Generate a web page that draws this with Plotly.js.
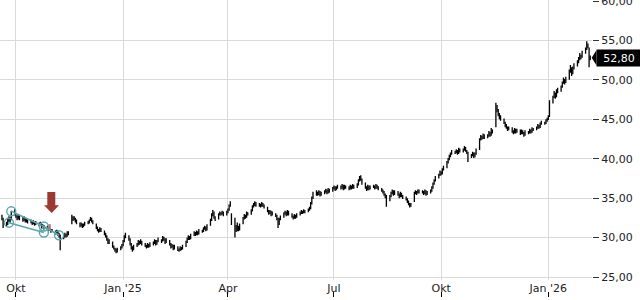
<!DOCTYPE html>
<html><head><meta charset="utf-8">
<script src="https://cdn.plot.ly/plotly-3.0.1.min.js"></script>
<style>html,body{margin:0;padding:0;background:#fff}#chart{width:640px;height:300px}</style>
</head><body><div id="chart"></div>
<script>
const startDate = '2024-09-19';
const openP = [
32.6,32.3,
31.8,31.7,32.2,32.4,32.3, 33.2,32.9,32.6,32.4,32.7, 32.4,32.2,32.4,32.1,32.2, 32.0,32.0,31.8,31.9,31.8,
31.8,31.6,31.7,31.4,31.4, 31.2,31.2,31.0,31.0,30.8, 30.8,30.6,30.8,30.4,30.2, 29.9,30.1,30.4,30.2,30.6,
31.8,32.5,32.3,32.4,32.1, 31.8,31.5,31.7,31.4,31.6, 31.8,31.9,32.2,32.4,32.1, 31.7,31.3,31.0,30.8,31.0,
30.8,30.5,30.2,29.7,29.4, 29.4,28.9,28.6,28.4,28.2, 28.5,28.7,29.0,29.5,30.1, 30.2,29.8,29.2,28.7,28.5,
28.9,29.1,29.5,29.3,29.5, 29.2,29.0,28.8,29.1,28.9, 29.1,29.3,29.6,29.2,29.5, 29.7,29.6,30.0,29.8,29.4,
29.6,29.2,28.8,29.0,28.6, 28.8,28.5,28.4,28.7,28.6, 28.9,29.4,29.8,30.1,29.9, 30.3,30.6,30.4,30.7,30.5,
30.9,30.8,31.1,31.3,31.0, 31.6,32.2,32.9,33.2,32.6, 32.4,32.9,33.1,33.0,33.2, 32.9,33.2,33.5,34.0,33.0,
31.0,31.4,30.9,31.3,31.0, 31.8,32.4,32.8,32.6,33.1, 33.0,33.4,33.9,34.2,34.4, 34.1,34.2,34.0,34.3,34.1,
33.8,33.4,33.1,33.3,32.9, 33.0,32.8,32.4,31.7,32.3, 32.6,33.0,33.2,32.9,33.3, 33.0,32.7,32.5,32.8,32.6,
32.9,33.1,33.3,33.2,33.4, 33.3,33.5,33.7,34.3,35.0, 35.4,35.7,35.5,35.8,35.4, 35.6,35.8,36.0,35.7,36.1,
35.9,36.2,36.4,36.1,36.3, 36.5,36.3,36.6,36.2,36.5, 36.4,36.2,36.5,36.3,36.6, 36.4,36.7,37.2,37.6,37.4,
36.9,36.4,36.1,36.5,36.2, 36.4,36.5,36.3,36.6,36.4, 36.2,36.0,35.8,35.5,35.2, 34.7,35.2,35.6,35.9,35.5,
35.8,35.5,35.2,35.6,35.3, 35.1,34.9,34.6,34.3,34.0, 34.6,35.6,35.8,35.7,36.0, 35.9,35.8,35.6,35.9,35.5,
35.7,35.9,36.3,36.8,37.2, 37.6,37.9,38.3,38.1,38.6, 38.9,39.5,39.9,40.3,40.6, 40.9,40.8,41.0,40.7,41.2,
40.9,41.1,41.4,41.0,40.8, 40.2,40.4,40.7,40.3,40.6, 41.2,42.4,42.8,42.6,43.0, 42.7,42.9,43.3,43.0,43.6,
44.1,46.6,46.2,45.6,45.2, 45.0,44.6,44.2,44.0,43.7, 43.9,43.5,43.3,43.7,43.4, 43.6,43.2,43.5,43.3,43.0,
43.4,43.3,43.6,43.4,43.8, 43.7,43.9,44.2,44.0,44.4, 44.6,44.5,44.8,45.0,45.4, 47.1,47.8,48.3,47.9,48.5,
48.6,49.1,49.6,50.0,49.7, 50.1,51.0,51.5,50.8,51.4, 51.8,52.2,52.6,53.1,52.9, 53.4,53.9,54.5,54.0,52.6
];
const highP = [
32.9,32.5,
32.0,32.5,32.7,32.6,33.4, 33.6,33.1,32.8,32.9,32.8, 32.6,32.7,32.5,32.4,32.3, 32.3,32.1,32.2,32.0,32.1,
31.9,32.0,31.8,31.7,31.6, 31.5,31.3,31.3,31.1,31.1, 30.9,31.0,30.9,30.6,30.4, 30.3,30.6,30.5,30.8,30.8,
32.9,32.7,32.7,32.5,32.3, 31.9,31.9,31.8,31.8,32.0, 32.1,32.3,32.6,32.5,32.2, 31.8,31.4,31.1,31.3,31.2,
30.9,30.6,30.3,29.9,29.8, 29.5,29.0,28.7,28.6,28.7, 28.9,29.2,29.7,30.3,30.6, 30.3,29.9,29.3,28.9,29.1,
29.3,29.7,29.6,29.8,29.6, 29.3,29.1,29.3,29.2,29.4, 29.5,29.8,29.7,29.7,30.0, 29.8,30.2,30.1,29.9,29.9,
29.7,29.3,29.2,29.1,29.1, 28.9,28.6,28.9,28.8,29.1, 29.6,30.0,30.3,30.2,30.5, 30.8,30.7,30.9,30.8,31.1,
31.0,31.3,31.5,31.4,31.7, 32.4,33.1,33.5,33.3,32.7, 33.1,33.3,33.2,33.4,33.3, 33.4,33.7,34.2,34.6,33.1,
32.5,31.6,31.9,31.5,31.8, 32.6,33.0,32.9,33.3,33.2, 33.6,34.1,34.4,34.6,34.5, 34.4,34.3,34.5,34.4,34.2,
33.9,33.5,33.5,33.4,33.3, 33.1,32.9,32.5,32.5,32.8, 33.2,33.4,33.3,33.5,33.4, 33.1,32.8,33.0,32.9,33.1,
33.3,33.5,33.4,33.6,33.5, 33.7,33.9,34.5,35.2,35.8, 36.0,35.8,36.0,35.9,35.8, 36.0,36.2,36.1,36.3,36.2,
36.4,36.6,36.5,36.5,36.7, 36.6,36.8,36.7,36.7,36.6, 36.5,36.7,36.6,36.8,36.7, 36.9,37.4,37.8,37.9,37.5,
37.0,36.5,36.7,36.6,36.6, 36.7,36.6,36.8,36.7,36.5, 36.3,36.1,35.9,35.6,35.4, 35.4,35.8,36.1,36.0,36.0,
35.9,35.6,35.8,35.7,35.4, 35.2,35.0,34.7,34.4,34.4, 35.8,36.0,35.9,36.1,36.1, 36.0,35.9,36.1,36.0,35.9,
36.1,36.5,37.0,37.4,37.8, 38.1,38.5,38.4,38.8,39.1, 39.7,40.1,40.5,40.8,41.1, 41.0,41.2,41.1,41.4,41.3,
41.3,41.6,41.5,41.1,40.9, 40.6,40.9,40.8,40.8,41.3, 42.6,43.0,42.9,43.2,43.1, 43.1,43.5,43.4,43.9,43.7,
47.1,46.8,46.3,45.8,45.5, 45.1,44.7,44.4,44.1,44.1, 44.0,43.6,43.9,43.8,43.8, 43.7,43.7,43.6,43.4,43.6,
43.5,43.8,43.7,44.0,43.9, 44.1,44.4,44.3,44.6,44.8, 44.7,45.0,45.2,45.5,47.4, 48.0,48.6,48.4,48.8,49.0,
49.3,49.8,50.3,50.1,50.4, 51.3,51.9,51.6,51.7,52.1, 52.5,52.9,53.4,53.2,53.7, 54.1,54.9,54.6,54.1,53.1
];
const lowP = [
32.2,31.2,
31.4,31.6,32.0,31.9,32.2, 32.8,32.5,32.2,32.3,32.2, 32.0,32.1,31.9,31.9,31.8, 31.8,31.6,31.7,31.5,31.6,
31.4,31.5,31.2,31.3,31.0, 31.0,30.8,30.9,30.6,30.7, 30.4,30.5,30.2,30.0,28.4, 29.8,30.0,30.0,30.1,30.3,
31.7,32.1,32.2,31.9,31.7, 31.3,31.4,31.2,31.3,31.5, 31.7,31.8,32.1,31.9,31.7, 31.1,30.8,30.6,30.7,30.7,
30.3,30.0,29.6,29.2,29.2, 28.7,28.5,28.2,28.0,28.1, 28.4,28.6,28.9,29.4,29.9, 29.6,29.0,28.5,28.2,28.4,
28.8,29.0,29.1,29.2,29.0, 28.8,28.6,28.7,28.7,28.8, 29.0,29.2,29.0,29.1,29.4, 29.3,29.5,29.6,29.2,29.3,
29.0,28.6,28.7,28.4,28.5, 28.3,28.2,28.3,28.4,28.5, 28.8,29.3,29.7,29.7,29.8, 30.2,30.2,30.3,30.3,30.4,
30.6,30.7,31.0,30.8,30.9, 31.5,32.1,32.7,32.4,32.1, 32.3,32.8,32.8,32.9,32.7, 32.8,33.1,33.4,33.9,31.6,
30.0,30.7,30.8,30.8,30.9, 31.7,32.3,32.4,32.5,32.8, 32.9,33.3,33.8,34.0,33.9, 33.9,33.8,33.9,33.9,33.7,
33.2,32.9,33.0,32.7,32.8, 32.6,32.2,31.2,31.6,32.2, 32.5,32.9,32.7,32.8,32.8, 32.5,32.3,32.4,32.4,32.5,
32.8,33.0,33.0,33.1,33.1, 33.2,33.4,33.6,34.2,34.9, 35.3,35.3,35.4,35.2,35.3, 35.5,35.7,35.5,35.6,35.7,
35.8,36.1,35.9,36.0,36.2, 36.1,36.2,36.0,36.1,36.2, 36.0,36.1,36.1,36.2,36.2, 36.3,36.6,37.1,37.2,36.7,
36.2,35.9,36.0,36.0,36.1, 36.3,36.1,36.2,36.2,36.0, 35.8,35.6,35.3,35.0,33.9, 34.6,35.1,35.5,35.3,35.4,
35.3,35.0,35.1,35.1,34.9, 34.7,34.4,34.1,33.8,33.9, 34.5,35.5,35.4,35.6,35.6, 35.6,35.4,35.5,35.3,35.4,
35.6,35.8,36.2,36.7,37.1, 37.5,37.8,37.9,38.0,38.5, 38.8,39.4,39.8,40.2,40.5, 40.6,40.7,40.5,40.6,40.8,
40.8,41.0,40.9,40.6,39.6, 40.1,40.3,40.1,40.2,40.5, 41.1,42.3,42.4,42.5,42.5, 42.6,42.8,42.8,42.9,43.2,
44.0,45.9,45.4,45.0,44.8, 44.4,44.0,43.8,43.5,43.6, 43.3,43.1,43.2,43.2,43.3, 43.0,43.1,43.1,42.8,42.9,
43.1,43.2,43.2,43.3,43.5, 43.6,43.8,43.8,43.9,44.3, 44.3,44.4,44.7,44.9,45.3, 47.0,47.7,47.6,47.8,48.3,
48.5,49.0,49.5,49.4,49.6, 50.0,50.9,50.5,50.7,51.3, 51.7,52.1,52.5,52.6,52.8, 53.3,53.8,54.0,51.6,52.5
];
const closeP = [
32.4,31.9,
31.6,32.3,32.5,32.1,33.1, 33.0,32.7,32.5,32.6,32.4, 32.3,32.5,32.1,32.2,32.0, 32.1,31.8,32.0,31.7,31.9,
31.6,31.8,31.4,31.5,31.2, 31.3,31.0,31.1,30.8,30.9, 30.6,30.9,30.4,30.2,29.8, 30.1,30.4,30.2,30.6,30.5,
32.6,32.3,32.5,32.1,31.9, 31.5,31.7,31.4,31.6,31.8, 31.9,32.2,32.4,32.1,31.9, 31.3,31.0,30.8,31.1,30.9,
30.5,30.2,29.8,29.4,29.6, 28.9,28.6,28.4,28.2,28.5, 28.7,29.0,29.5,30.1,30.4, 29.8,29.2,28.7,28.5,28.9,
29.1,29.5,29.3,29.6,29.2, 29.0,28.8,29.1,28.9,29.2, 29.3,29.6,29.2,29.5,29.8, 29.6,30.0,29.8,29.4,29.7,
29.2,28.8,29.0,28.6,28.9, 28.5,28.4,28.7,28.6,28.9, 29.4,29.8,30.1,29.9,30.3, 30.6,30.4,30.7,30.5,30.9,
30.8,31.1,31.3,31.0,31.5, 32.2,32.9,33.3,32.6,32.3, 32.9,33.1,33.0,33.2,32.9, 33.2,33.5,34.0,34.4,31.8,
31.4,30.9,31.3,31.0,31.6, 32.4,32.8,32.6,33.1,33.0, 33.4,33.9,34.2,34.4,34.1, 34.2,34.0,34.3,34.1,33.9,
33.4,33.1,33.3,32.9,33.1, 32.8,32.4,31.6,32.3,32.6, 33.0,33.2,32.9,33.3,33.0, 32.7,32.5,32.8,32.6,32.9,
33.1,33.3,33.2,33.4,33.3, 33.5,33.7,34.3,35.0,35.4, 35.7,35.5,35.8,35.4,35.6, 35.8,36.0,35.7,36.1,35.9,
36.2,36.4,36.1,36.3,36.5, 36.3,36.6,36.2,36.5,36.4, 36.2,36.5,36.3,36.6,36.4, 36.7,37.2,37.6,37.4,36.9,
36.4,36.1,36.5,36.2,36.4, 36.5,36.3,36.6,36.4,36.2, 36.0,35.8,35.5,35.2,34.6, 35.2,35.6,35.9,35.5,35.8,
35.5,35.2,35.6,35.3,35.1, 34.9,34.6,34.3,34.0,34.1, 35.6,35.8,35.7,36.0,35.9, 35.8,35.6,35.9,35.5,35.7,
35.9,36.3,36.8,37.2,37.6, 37.9,38.3,38.1,38.6,38.9, 39.5,39.9,40.3,40.6,40.9, 40.8,41.0,40.7,41.2,40.9,
41.1,41.4,41.0,40.8,40.2, 40.4,40.7,40.3,40.6,41.1, 42.4,42.8,42.6,43.0,42.7, 42.9,43.3,43.0,43.6,43.4,
46.6,46.2,45.6,45.2,45.0, 44.6,44.2,44.0,43.7,43.9, 43.5,43.3,43.7,43.4,43.6, 43.2,43.5,43.3,43.0,43.4,
43.3,43.6,43.4,43.8,43.7, 43.9,44.2,44.0,44.4,44.6, 44.5,44.8,45.0,45.3,47.1, 47.8,48.3,47.9,48.5,48.6,
49.1,49.6,50.0,49.7,50.1, 51.0,51.5,50.8,51.4,51.8, 52.2,52.6,53.1,52.9,53.4, 53.9,54.5,54.2,52.6,52.8
];
const tickDates = ['2024-10-01','2025-01-01','2025-04-01','2025-07-01','2025-10-01','2026-01-01'];
const tickLabels = ['Okt',"Jan '25",'Apr','Jul','Okt',"Jan '26"];
const priceTicks = [25,30,35,40,45,50,55,60];
// drawing (trend channel) points
const upperLineX = ['2024-09-27','2024-10-25','2024-11-07'];
const upperLineY = [33.33, 31.40, 30.29];
const lowerLineX = ['2024-09-25','2024-10-25'];
const lowerLineY = [31.89, 30.64];
const signalDate = '2024-10-30';
const signalRange = [30.85, 31.7];

function tradingDays(start, n) {
  const d = new Date(start + 'T00:00:00Z'); const out = [];
  while (out.length < n) {
    const wd = d.getUTCDay();
    if (wd !== 0 && wd !== 6) out.push(d.toISOString().slice(0, 10));
    d.setUTCDate(d.getUTCDate() + 1);
  }
  return out;
}
const n = Math.min(openP.length, highP.length, lowP.length, closeP.length);
const dates = tradingDays(startDate, n);
const lastClose = closeP[n - 1];

const yMin = 24.62, yMax = 60.127, yDom0 = 0.0572;
const xRange = ['2024-09-17 08:00', '2026-02-07 12:00'];
const teal = '#5aa6ae';
const fontFam = 'DejaVu Sans, Verdana, sans-serif';

const traces = [
  { type: 'ohlc', x: dates, open: openP.slice(0,n), high: highP.slice(0,n), low: lowP.slice(0,n), close: closeP.slice(0,n),
    increasing: { line: { color: '#000', width: 1.3 } }, decreasing: { line: { color: '#000', width: 1.3 } },
    tickwidth: 0.5, hoverinfo: 'skip', showlegend: false },
  { type: 'scatter', mode: 'lines', x: [signalDate, signalDate], y: signalRange,
    line: { color: '#e06060', width: 2 }, hoverinfo: 'skip', showlegend: false },
  { type: 'scatter', mode: 'lines+markers', x: upperLineX, y: upperLineY,
    line: { color: teal, width: 1.6 }, marker: { symbol: 'circle-open', size: 9, color: teal, line: { width: 1.4, color: teal } },
    hoverinfo: 'skip', showlegend: false, cliponaxis: false },
  { type: 'scatter', mode: 'lines+markers', x: lowerLineX, y: lowerLineY,
    line: { color: teal, width: 1.6 }, marker: { symbol: 'circle-open', size: 9, color: teal, line: { width: 1.4, color: teal } },
    hoverinfo: 'skip', showlegend: false, cliponaxis: false },
  { type: 'scatter', mode: 'markers', x: [dates[0]], y: [closeP[0]], xaxis: 'x2', yaxis: 'y',
    marker: { opacity: 0 }, hoverinfo: 'skip', showlegend: false }
];

const yp = (v) => yDom0 + (v - yMin) / (yMax - yMin) * (1 - yDom0);
const tagHalf = 7.5 / 297;
const tagY = yp(lastClose);

const layout = {
  width: 640, height: 300,
  margin: { l: 0, r: 48, t: 0, b: 3 },
  paper_bgcolor: '#fff', plot_bgcolor: '#fff',
  separators: ',.',
  font: { family: fontFam, size: 11, color: '#222' },
  showlegend: false,
  xaxis: {
    type: 'date', range: xRange, rangeslider: { visible: false },
    tickmode: 'array', tickvals: tickDates, ticktext: tickLabels,
    showgrid: true, gridcolor: '#dadada', gridwidth: 1,
    ticks: '', showline: false, zeroline: false,
    tickfont: { family: fontFam, size: 11, color: '#222' }
  },
  xaxis2: {
    type: 'date', range: xRange, overlaying: 'x', anchor: 'free', position: 0, side: 'bottom',
    tickmode: 'array', tickvals: tickDates, showticklabels: false,
    ticks: 'inside', ticklen: 5, tickwidth: 1, tickcolor: '#000',
    showgrid: false, showline: false, zeroline: false
  },
  yaxis: {
    side: 'right', range: [yMin, yMax], domain: [yDom0, 1],
    tickmode: 'array', tickvals: priceTicks, tickformat: '.2f',
    ticklabeloverflow: 'allow',
    showgrid: true, gridcolor: '#dadada', gridwidth: 1,
    ticks: 'outside', ticklen: 6, tickcolor: '#333', tickwidth: 1,
    showline: false, zeroline: false,
    tickfont: { family: fontFam, size: 11, color: '#222' }
  },
  shapes: [
    { type: 'path', xref: 'paper', yref: 'paper', fillcolor: '#9b3a30', line: { width: 0 },
      path: 'M 0.0799,0.3535 L 0.0934,0.3535 L 0.0934,0.3088 L 0.0997,0.3088 L 0.0873,0.2828 L 0.0743,0.3088 L 0.0799,0.3088 Z' },
    { type: 'path', xref: 'paper', yref: 'paper', fillcolor: '#000', line: { width: 0 },
      path: `M 0.9995,${tagY} L 1.0075,${tagY + tagHalf} L 1.0075,${tagY - tagHalf} Z` }
  ],
  annotations: [
    { xref: 'paper', yref: 'paper', x: 1, xanchor: 'left', xshift: 4, y: tagY, yanchor: 'middle',
      text: lastClose.toFixed(2).replace('.', ','), showarrow: false,
      bgcolor: '#000', font: { family: fontFam, size: 11, color: '#fff' }, width: 40, height: 12, borderpad: 2 }
  ]
};
Plotly.newPlot('chart', traces, layout, { staticPlot: true, displayModeBar: false });
</script></body></html>
